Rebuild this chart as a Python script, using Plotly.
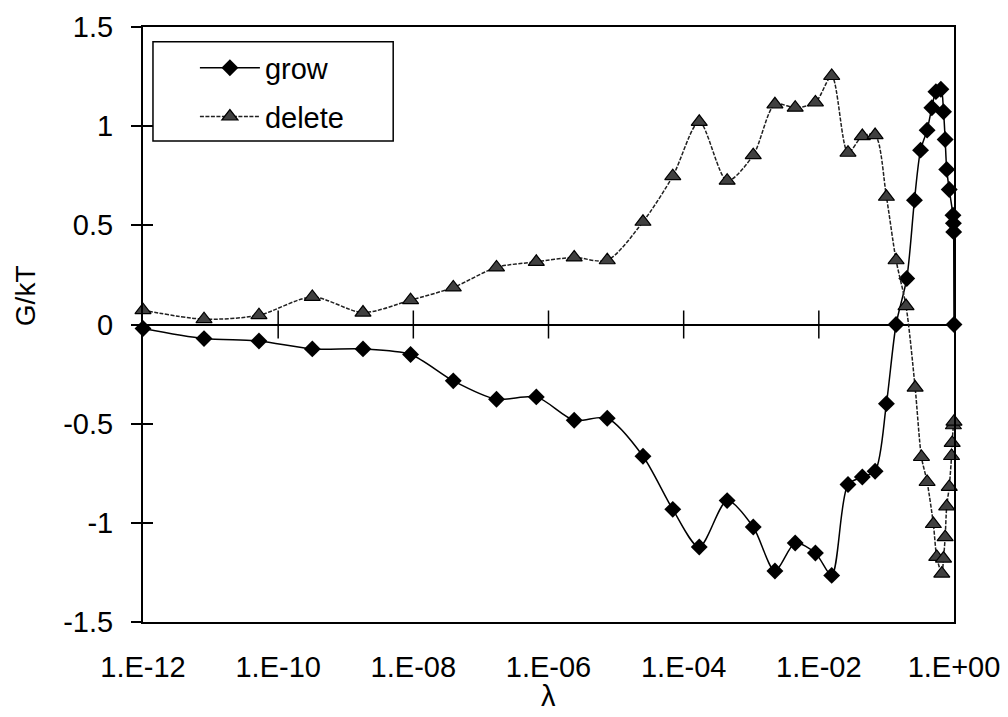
import plotly.graph_objects as go

# ---- data ----
x_tick_vals = [1e-12, 1e-10, 1e-8, 1e-6, 1e-4, 1e-2, 1e0]
x_tick_text = ["1.E-12", "1.E-10", "1.E-08", "1.E-06", "1.E-04", "1.E-02", "1.E+00"]
y_tick_vals = [1.5, 1, 0.5, 0, -0.5, -1, -1.5]
y_tick_text = ["1.5", "1", "0.5", "0", "-0.5", "-1", "-1.5"]

grow_lambda = [1e-12, 8e-12, 5.2e-11, 3.2e-10, 1.8e-9, 9.1e-9, 3.9e-8, 1.7e-7, 6.6e-7,
               2.4e-6, 7.4e-6, 2.5e-5, 6.9e-5, 1.7e-4, 4.4e-4, 1.07e-3, 2.24e-3, 4.47e-3,
               8.9e-3, 1.55e-2, 2.7e-2, 4.4e-2, 6.8e-2, 0.1, 0.139, 0.2, 0.26, 0.32, 0.4,
               0.47, 0.54, 0.64, 0.70, 0.74, 0.78, 0.85, 0.966, 0.98, 0.99, 1.0]
grow_G = [-0.02, -0.071, -0.083, -0.123, -0.123, -0.151, -0.284, -0.377, -0.365,
          -0.483, -0.473, -0.664, -0.932, -1.122, -0.888, -1.021, -1.243, -1.102,
          -1.152, -1.265, -0.807, -0.769, -0.740, -0.399, 0.0, 0.232, 0.627, 0.879, 0.98,
          1.093, 1.174, 1.186, 1.073, 0.933, 0.782, 0.681, 0.551, 0.51, 0.467, 0.0]

delete_lambda = [1e-12, 8e-12, 5.2e-11, 3.2e-10, 1.8e-9, 9.1e-9, 3.9e-8, 1.7e-7, 6.6e-7,
                 2.4e-6, 7.4e-6, 2.5e-5, 6.9e-5, 1.7e-4, 4.4e-4, 1.07e-3, 2.24e-3, 4.47e-3,
                 8.9e-3, 1.55e-2, 2.7e-2, 4.4e-2, 6.8e-2, 0.1, 0.139, 0.195, 0.266, 0.33, 0.4,
                 0.495, 0.556, 0.66, 0.70, 0.74, 0.78, 0.85, 0.92, 0.94, 0.98, 1.0]
delete_G = [0.072, 0.027, 0.047, 0.139, 0.060, 0.123, 0.187, 0.288, 0.316,
            0.338, 0.324, 0.518, 0.748, 1.022, 0.725, 0.854, 1.11, 1.093,
            1.12, 1.253, 0.866, 0.95, 0.955, 0.644, 0.324, 0.093, -0.318, -0.668, -0.794,
            -1.006, -1.172, -1.256, -1.18, -1.072, -0.917, -0.819, -0.663, -0.597, -0.508, -0.49]

FONT = "Liberation Sans, Arial, sans-serif"

fig = go.Figure()

# crossing tick marks on the zero line (at the inner x tick values)
inner_ticks = x_tick_vals[1:-1]
fig.add_trace(go.Scatter(
    x=inner_ticks, y=[0] * len(inner_ticks), mode="markers", yaxis="y2",
    marker=dict(symbol="line-ns", size=20, line=dict(color="black", width=1.5)),
    showlegend=False, hoverinfo="skip", cliponaxis=False))

fig.add_trace(go.Scatter(
    x=grow_lambda, y=grow_G, name="grow", mode="lines+markers",
    line=dict(color="black", width=1.5, shape="spline", smoothing=0.8),
    marker=dict(symbol="diamond", size=13, color="black"),
    legendgroup="a", cliponaxis=False))

fig.add_trace(go.Scatter(
    x=delete_lambda, y=delete_G, name="delete", mode="lines+markers",
    line=dict(color="#202020", width=1.5, dash="4px,1.5px", shape="spline", smoothing=0.8),
    marker=dict(symbol="triangle-up", size=14, color="#404040",
                line=dict(color="black", width=1.2)),
    legendgroup="b", cliponaxis=False))

fig.update_layout(
    width=1000, height=709,
    margin=dict(l=135, r=54, t=19, b=95, autoexpand=False),
    paper_bgcolor="white", plot_bgcolor="white",
    font=dict(family=FONT, size=29, color="black"),
    showlegend=True,
    legend=dict(x=0.064, y=0.974, xanchor="left", yanchor="top",
                borderwidth=0, bgcolor="rgba(0,0,0,0)",
                font=dict(size=29), tracegroupgap=8, itemwidth=60,
                traceorder="grouped"),
    xaxis=dict(type="log", range=[-12, 0], tickvals=x_tick_vals, ticktext=x_tick_text,
               ticks="", showgrid=False, showline=True, linecolor="black", linewidth=2,
               mirror=True, zeroline=False, ticklabelstandoff=18, automargin=False),
    yaxis=dict(range=[-1.5, 1.5], tickvals=y_tick_vals, ticktext=y_tick_text,
               ticks="outside", ticklen=10, tickwidth=1.5, tickcolor="black",
               showgrid=False, showline=True, linecolor="black", linewidth=2,
               mirror=True, zeroline=True, zerolinecolor="black", zerolinewidth=1.5,
               ticklabelstandoff=12, automargin=False),
    yaxis2=dict(range=[-1.5, 1.5], overlaying="y", anchor="x", side="left",
                tickvals=y_tick_vals, ticks="inside", ticklen=10, tickwidth=1.5,
                tickcolor="black", showticklabels=False, showgrid=False,
                showline=False, zeroline=False, automargin=False),
    shapes=[dict(type="rect", xref="paper", yref="paper",
                 x0=0.0123, x1=0.3085, y0=0.8083, y1=0.9753,
                 line=dict(color="black", width=1.5), fillcolor="white", layer="above")],
    annotations=[
        dict(text="G/kT", xref="paper", yref="paper", x=-0.144, y=0.548,
             showarrow=False, textangle=-90, font=dict(size=28), borderpad=0,
             xanchor="center", yanchor="middle"),
        dict(text="λ", xref="paper", yref="paper", x=0.5, y=-0.125,
             showarrow=False, font=dict(size=29),
             xanchor="center", yanchor="middle"),
    ],
)

fig.write_html("out.html")
